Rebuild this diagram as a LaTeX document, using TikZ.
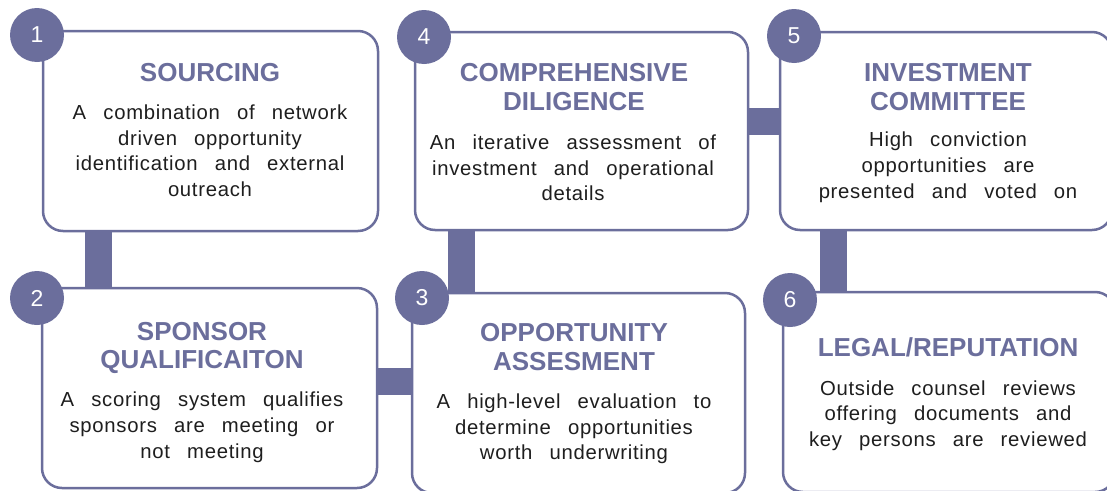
\documentclass[tikz,border=0pt]{standalone}
\usepackage{fontspec}
\setmainfont{Liberation Sans}
\newfontfamily\bodyfont{Liberation Sans}[LetterSpace=3.5,WordSpace=2.7]
\usetikzlibrary{backgrounds}
\definecolor{slate}{HTML}{6B6E9C}
\definecolor{ink}{HTML}{1E1E1E}
% struts fixing the top of the first line of each text block
\newcommand\titlestrut{\rule{0pt}{26pt}}
\newcommand\bodystrut{\rule{0pt}{20pt}}
\tikzset{
  card/.style={draw=slate, line width=2.5pt, fill=white, rounded corners=20pt, inner sep=0pt},
  badge/.style={circle, fill=slate, minimum size=54pt, inner sep=0pt, text=white,
    font=\fontsize{23}{23}\selectfont},
  title/.style={anchor=north, inner sep=0pt, align=center, text=slate,
    font=\bfseries\fontsize{26}{28.3}\selectfont},
  body/.style={anchor=north, inner sep=0pt, align=center, text=ink,
    font=\bodyfont\fontsize{20.3}{25.7}\selectfont},
  bar/.style={draw=slate, line width=27pt}
}
\begin{document}
\begin{tikzpicture}[x=1pt, y=-1pt]
\useasboundingbox (0,0) rectangle (1107,490);
\clip (0,0) rectangle (1107,490);

% process cards
\node[card, minimum width=335pt, minimum height=200pt] (b1) at (210.5,131) {};
\node[card, minimum width=335pt, minimum height=200pt] (b2) at (209.5,388) {};
\node[card, minimum width=333pt, minimum height=200pt] (b3) at (578.5,393) {};
\node[card, minimum width=333pt, minimum height=198pt] (b4) at (581.5,131) {};
\node[card, minimum width=332pt, minimum height=198pt] (b5) at (946,131) {};
\node[card, minimum width=332pt, minimum height=200pt] (b6) at (949,392) {};

% links between consecutive steps, behind the cards
\begin{scope}[on background layer]
  \draw[bar] ([xshift=57pt]b1.south west) -- ([xshift=57pt]b1.south west |- b2.north);
  \draw[bar] ([yshift=7pt]b2.east) -- ([yshift=7pt]b2.east -| b3.west);
  \draw[bar] ([xshift=50.5pt]b3.north west) -- ([xshift=50.5pt]b3.north west |- b4.south);
  \draw[bar] ([yshift=10pt]b4.east) -- ([yshift=10pt]b4.east -| b5.west);
  \draw[bar] ([xshift=55pt]b5.south west) -- ([xshift=55pt]b5.south west |- b6.north);
\end{scope}

% step numbers
\node[badge] (n1) at (37,35) {1};
\node[badge] (n2) at (37,298) {2};
\node[badge] (n3) at (422,298) {3};
\node[badge] (n4) at (424,37) {4};
\node[badge] (n5) at (794,36) {5};
\node[badge] (n6) at (790,300) {6};

% headings
\node[title] (t1) at (210,55.7) {\titlestrut SOURCING};
\node[title] (t2) at (202,314) {\titlestrut SPONSOR\\QUALIFICAITON};
\node[title] (t3) at (574,315.7) {\titlestrut OPPORTUNITY\\ASSESMENT};
\node[title] (t4) at (574,55.7) {\titlestrut COMPREHENSIVE\\DILIGENCE};
\node[title] (t5) at (948,55.7) {\titlestrut INVESTMENT\\COMMITTEE};
\node[title] (t6) at (948,330.7) {\titlestrut LEGAL/REPUTATION};

% descriptions
\node[body] (d1) at (210,99.3) {\bodystrut A combination of network\\driven opportunity\\identification and external\\outreach};
\node[body] (d2) at (202,386.7) {\bodystrut A scoring system qualifies\\sponsors are meeting or\\not meeting};
\node[body] (d3) at (574,388.3) {\bodystrut A high-level evaluation to\\determine opportunities\\worth underwriting};
\node[body] (d4) at (573,129.3) {\bodystrut An iterative assessment of\\investment and operational\\details};
\node[body] (d5) at (948,126.7) {\bodystrut High conviction\\opportunities are\\presented and voted on};
\node[body] (d6) at (948,375) {\bodystrut Outside counsel reviews\\offering documents and\\key persons are reviewed};
\end{tikzpicture}
\end{document}
